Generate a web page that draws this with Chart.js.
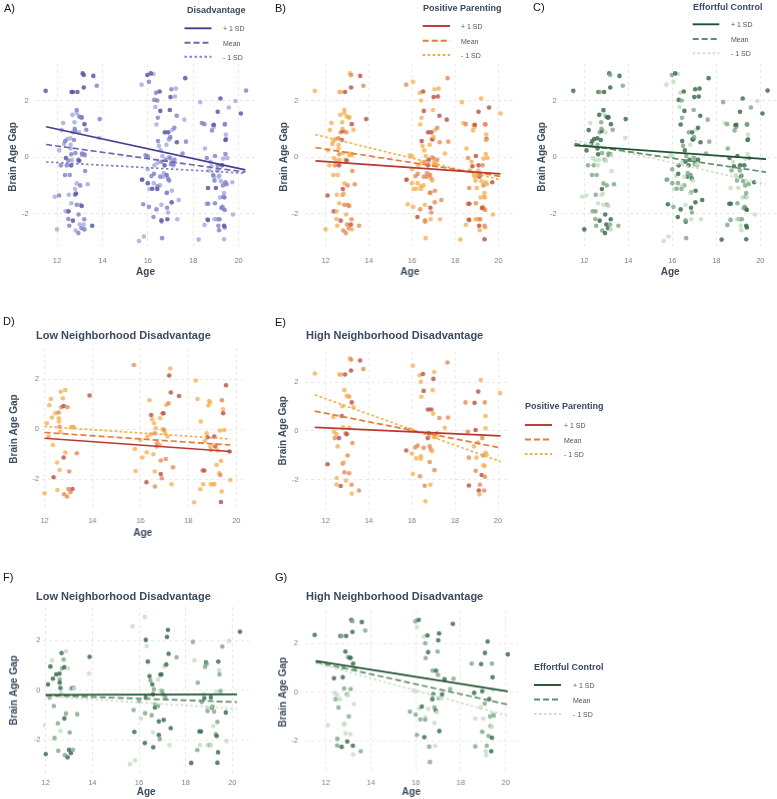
<!DOCTYPE html>
<html><head><meta charset="utf-8">
<script src="https://cdn.jsdelivr.net/npm/chart.js@4"></script>
<style>
html,body{margin:0;padding:0;background:#fff;}
body{width:777px;height:799px;position:relative;overflow:hidden;font-family:"Liberation Sans",Arial,Helvetica,sans-serif;}
.t{position:absolute;white-space:nowrap;line-height:1;transform:translateY(-50%);}
</style></head><body>
<script>
// ---------------- DATA ----------------
const xTicks = [12, 14, 16, 18, 20];
const yTicks = [-2, 0, 2];
const sdLabels = ['+ 1 SD', 'Mean', '- 1 SD'];
const panelTitles = ['Low Neighborhood Disadvantage', 'High Neighborhood Disadvantage'];

// Low neighborhood disadvantage participants (panels D, F; part of A, B, C)
const lowAge = [12.0,12.1,12.17,12.2,12.27,12.31,12.35,12.38,12.45,12.52,12.54,12.59,12.6,12.6,12.63,12.63,12.68,12.7,12.66,12.77,12.8,12.8,12.82,12.87,12.87,12.94,12.96,13.0,13.03,13.08,13.1,13.17,13.19,13.22,13.35,13.88,
15.73,15.77,15.8,16.0,16.08,16.25,16.26,16.29,16.38,16.43,16.45,16.49,16.54,16.57,16.6,16.61,16.6,16.64,16.68,16.7,16.82,16.82,16.85,16.85,16.89,16.92,16.92,16.96,16.99,17.03,17.06,17.08,17.13,17.17,17.2,17.24,17.27,17.3,17.36,17.61,
18.24,18.31,18.38,18.5,18.52,18.59,18.66,18.62,18.69,18.76,18.8,18.83,18.87,18.9,18.91,18.94,18.94,19.04,19.08,19.08,19.12,19.15,19.18,19.22,19.29,19.32,19.33,19.36,19.36,19.39,19.4,19.44,19.45,19.5,19.57,19.75,19.72,
11.9,13.86,15.61,15.83,16.25,16.29,16.33,19.86,20.33];
const lowGap = [-2.56,0.24,-0.29,0.96,1.21,0.47,-0.63,-1.92,0.64,-1.33,-2.43,0.67,0.44,0.31,0.1,-1.63,1.5,0.88,-0.1,1.24,0.93,-1.13,-2.6,1.57,-0.93,-2.69,0.88,-2.39,-1.69,-2.52,0.08,-2.39,0.1,0.08,-0.96,1.35,
2.57,-0.79,-1.67,-0.43,-1.13,-2.12,-0.92,-0.29,1.16,-0.2,0.57,0.4,-1.0,0.24,-1.69,-2.29,-0.16,0.04,-0.69,-0.56,0.44,-0.63,-1.25,-1.79,-1.96,0.63,0.0,0.64,-0.03,-0.16,-1.19,0.97,-0.29,1.04,2.15,2.43,1.47,-2.2,-1.52,1.33,
-2.92,1.95,1.21,-2.4,0.31,-1.65,-1.65,-2.2,-0.47,-0.16,-0.32,0.95,1.13,1.07,-0.69,-0.83,-2.2,-2.2,-2.2,-0.29,-0.69,-0.65,-1.43,-0.85,-1.76,-0.05,-1.83,-2.91,-1.27,-2.49,1.16,0.8,0.64,-0.03,1.76,-2.03,-0.89,
-1.4,0.68,-2.97,-2.81,2.95,2.03,1.78,1.99,2.36];
// moderator levels: 2 = high (+1 SD side), 1 = around mean, 0 = low (-1 SD side); null = not in that model
const lowParenting = [0,0,0,0,0,0,0,2,0,0,0,1,0,0,1,0,0,1,0,0,2,2,1,0,0,1,1,1,1,1,0,2,0,0,1,2,
1,0,0,0,0,2,0,0,0,0,2,0,0,0,0,1,1,0,1,1,0,0,1,2,1,1,0,2,1,0,1,0,0,1,2,0,2,0,1,2,
0,0,0,0,0,1,2,0,0,0,2,0,0,0,0,0,0,0,0,2,2,1,0,0,0,0,1,2,0,0,1,0,2,0,2,0,2,
null,null,null,null,null,null,null,null,null];
const lowEffort = [2,2,1,2,0,2,1,1,2,1,1,2,1,2,2,0,2,1,0,1,2,2,1,0,1,2,0,2,1,2,1,1,2,0,1,2,
0,1,2,1,0,2,1,2,2,0,2,1,1,2,0,2,2,1,2,1,0,1,2,2,1,2,0,2,1,1,2,0,1,2,2,2,2,0,2,1,
2,1,0,1,1,2,2,0,1,0,2,1,2,1,0,1,0,1,0,2,2,1,0,1,1,0,2,2,1,2,2,0,1,1,1,0,2,
0,0,0,0,0,2,0,0,2];
const lowDisadvantage = [0,0,1,0,0,0,1,0,0,0,1,0,0,0,1,0,0,0,0,0,1,0,0,0,0,1,0,0,0,1,0,0,0,1,0,1,
0,0,1,0,0,1,0,0,0,0,1,0,0,0,0,0,1,0,0,0,0,1,0,1,0,0,0,0,1,0,0,0,0,1,0,0,1,0,0,0,
0,0,1,0,0,0,1,0,0,0,0,1,0,0,0,1,0,0,0,1,0,0,0,0,1,0,0,0,0,1,0,0,1,0,0,0,0,
0,0,0,0,0,1,0,0,1];

// High neighborhood disadvantage participants (panels E, G; part of A, B, C)
const highAge = [11.5,12.09,12.36,12.39,12.43,12.5,12.51,12.5,12.56,12.62,12.64,12.7,12.7,12.75,12.78,12.79,12.81,12.84,12.87,12.87,12.9,12.93,12.95,12.98,12.98,13.02,13.06,13.09,13.1,13.1,13.13,13.18,13.18,13.2,13.21,13.21,13.24,13.29,13.55,13.6,13.75,
15.74,15.9,16.0,16.05,16.0,16.05,16.16,16.27,16.2,16.36,16.52,16.42,16.55,16.44,16.42,16.42,16.38,16.55,16.6,16.63,16.74,16.78,16.75,16.9,16.83,16.83,16.86,16.89,16.94,16.97,16.99,17.0,17.04,17.02,17.05,17.12,17.17,17.28,17.53,17.68,17.65,
18.49,18.6,18.65,18.65,18.88,18.91,18.96,18.96,19.0,19.07,19.08,19.11,19.16,19.14,19.2,19.24,19.27,19.31,19.33,19.36,19.39,19.39,19.42,19.42,19.42,19.47,19.38,20.1,
15.98,16.13];
const highGap = [2.35,-1.36,0.57,-0.03,-0.29,-0.12,-1.92,-2.19,-0.63,-0.29,2.31,2.31,-2.25,0.61,1.01,-1.33,0.15,-1.29,1.67,-1.69,2.31,-0.09,-2.03,-0.13,1.44,-1.0,1.41,-1.73,0.13,1.41,2.97,2.91,2.47,-2.2,1.17,-2.56,-0.49,0.97,-2.43,2.88,2.53,
-0.8,0.07,0.03,2.67,-0.92,-1.76,-0.67,-0.59,-1.12,2.28,2.33,2.01,1.64,1.4,-1.03,-1.13,-1.85,-0.69,-2.24,-2.87,-0.29,-0.09,0.88,0.88,-1.27,-0.63,-2.2,-0.76,-0.83,1.67,0.71,2.13,2.41,-0.25,-1.6,-0.25,-0.09,0.53,0.13,0.55,2.8,
1.17,-0.03,-1.09,-2.23,-0.63,1.15,-1.63,0.04,-1.09,-0.47,1.61,-2.43,-2.2,-2.59,2.08,-1.8,-0.29,-1.0,-1.4,-2.43,1.17,-1.87,0.11,0.61,-0.89,-0.96,-1.43,1.55,
2.91,2.97];
const highParenting = [0,2,0,0,1,0,0,0,0,2,0,0,2,2,0,1,0,0,0,1,2,1,0,2,0,1,0,1,0,0,0,1,2,1,2,0,1,0,1,2,1,
2,0,0,0,0,0,1,1,0,0,2,0,2,0,0,0,1,1,1,0,2,2,2,2,1,1,0,1,0,0,0,2,0,0,1,0,1,1,0,1,1,
1,1,1,2,0,2,1,2,0,0,2,2,1,0,0,2,1,1,0,1,1,1,0,0,0,0,0,0,
null,null];
const highEffort = [2,0,2,0,1,0,1,1,1,0,2,1,2,2,1,0,1,0,2,0,2,1,2,0,1,1,2,0,1,2,2,1,2,2,2,0,0,1,1,2,1,
1,0,0,0,1,1,0,2,1,0,2,1,2,1,0,1,2,0,1,1,2,2,1,2,0,1,0,2,0,1,1,2,2,1,2,0,2,2,1,1,2,
1,2,0,1,0,2,1,2,0,1,2,0,1,0,2,1,2,1,1,2,1,2,0,2,0,1,0,2,
1,2];
const highDisadvantage = [2,1,1,2,1,1,2,1,1,2,2,2,2,1,1,1,1,2,1,1,2,1,1,2,1,1,1,2,1,1,2,2,2,1,2,1,1,1,2,2,1,
2,1,1,1,2,1,1,1,2,1,2,1,2,1,1,2,1,1,2,1,2,1,2,2,1,1,2,1,1,2,1,2,1,1,2,1,1,2,1,1,2,
1,1,2,2,1,2,1,1,2,1,2,1,1,1,2,1,2,1,1,2,1,1,1,2,1,1,1,2,
2,2];

// Simple-slope lines [ageStart, gapStart, ageEnd, gapEnd] for +1 SD, Mean, -1 SD
const fitDisadvantage = [[11.52,1.08,20.3,-0.45],[11.52,0.45,20.3,-0.53],[11.52,-0.17,20.3,-0.57]];
const fitParenting    = [[11.53,-0.13,20.1,-0.59],[11.53,0.34,20.1,-0.68],[11.53,0.8,20.1,-0.8]];
const fitEffort       = [[11.55,0.42,20.26,-0.07],[11.55,0.48,20.26,-0.53],[11.55,0.59,20.26,-0.95]];
const fitParentLow    = [[12.0,-0.36,19.75,-0.89],[12.0,-0.13,19.75,-0.63],[12.0,0.11,19.75,-0.39]];
const fitParentHigh   = [[11.5,0.15,20.12,-0.2],[11.5,0.81,20.12,-0.69],[11.5,1.48,20.12,-1.25]];
const fitEffortLow    = [[12.0,-0.18,20.2,-0.16],[12.0,-0.2,20.2,-0.47],[12.0,-0.24,20.2,-0.74]];
const fitEffortHigh   = [[11.55,1.28,20.1,0.03],[11.55,1.24,20.1,-0.51],[11.55,1.19,20.1,-0.97]];

// ---------------- STYLE ----------------
const FONT = '"Liberation Sans", Arial, Helvetica, sans-serif';
Chart.defaults.font.family = FONT;
const TXT = '#3b4a5e', TICK = '#7f7f7f';
const DASH = [[], [6, 3], [2.5, 2.5]];
const PAL = {
  disadv: {pt: ['rgba(160,170,222,0.8)', 'rgba(128,126,198,0.8)', 'rgba(92,80,160,0.82)'], ln: ['#4a3d8f', '#6e68ad', '#7a86c8']},
  parent: {pt: ['rgba(244,178,84,0.8)', 'rgba(227,138,84,0.8)', 'rgba(183,76,66,0.8)'], ln: ['#b9382f', '#e47a3b', '#f1aa3d']},
  effort: {pt: ['rgba(198,224,194,0.85)', 'rgba(128,168,136,0.82)', 'rgba(62,110,80,0.85)'], ln: ['#1f5230', '#5f8e6a', '#c9e2c6']}
};

function collect(groups) {
  const d = [], c = [];
  groups.forEach(([ages, gaps, lv]) => ages.forEach((a, i) => {
    if (lv[i] === null || lv[i] === undefined) return;
    d.push({x: a, y: gaps[i]}); c.push(lv[i]);
  }));
  return {d, c};
}

// layout: pixel positions of ticks 12 / 20 (x) and 2 / -2 (y), axis ranges, y-title left edge
const ROW1 = {H: 32, tp: 6};
const ROW2 = {H: 33, tp: 6};
const ROW3 = {H: 28, tp: 5};
const panels = [
  {grid: [56.7, 238.3, 97.7, 212.7], x: [11.06, 20.74], y: [-3.3, 3.32], row: ROW1, yp: 7, tl: 2.7, pal: PAL.disadv, fit: fitDisadvantage,
   pts: collect([[lowAge, lowGap, lowDisadvantage], [highAge, highGap, highDisadvantage]]), age: true},
  {grid: [325.7, 497.7, 97.7, 212.7], x: [11.06, 20.74], y: [-3.3, 3.32], row: ROW1, yp: 7, tl: 274.3, pal: PAL.parent, fit: fitParenting,
   pts: collect([[lowAge, lowGap, lowParenting], [highAge, highGap, highParenting]]), age: true},
  {grid: [584, 760, 97.7, 212.7], x: [11.06, 20.74], y: [-3.3, 3.32], row: ROW1, yp: 7, tl: 531.7, pal: PAL.effort, fit: fitEffort,
   pts: collect([[lowAge, lowGap, lowEffort], [highAge, highGap, highEffort]]), age: true},
  {grid: [44.3, 235.3, 379.3, 479.3], x: [11.9, 20.3], y: [-3.23, 3.25], row: ROW2, yp: 3, tl: 4, pal: PAL.parent, fit: fitParentLow,
   pts: collect([[lowAge, lowGap, lowParenting]]), age: true},
  {grid: [325.7, 497.3, 379.3, 479.3], x: [11.07, 20.53], y: [-3.23, 3.25], row: ROW2, yp: 7, tl: 273.3, pal: PAL.parent, fit: fitParentHigh,
   pts: collect([[highAge, highGap, highParenting]]), age: false},
  {grid: [45.7, 232.3, 640.3, 739.3], x: [11.9, 20.72], y: [-3.35, 3.35], row: ROW3, yp: 3, tl: 4, pal: PAL.effort, fit: fitEffortLow,
   pts: collect([[lowAge, lowGap, lowEffort]]), age: true},
  {grid: [326, 505, 640.3, 739.3], x: [11.07, 20.53], y: [-3.35, 3.35], row: ROW3, yp: 7, tl: 273.3, pal: PAL.effort, fit: fitEffortHigh,
   pts: collect([[highAge, highGap, highEffort]]), age: true}
];

function makePanel(p) {
  const [x12, x20, y2, ym2] = p.grid;
  const sx = (x20 - x12) / 8, sy = (ym2 - y2) / 4;
  const L = x12 + (p.x[0] - 12) * sx, R = x20 + (p.x[1] - 20) * sx;
  const T = y2 - (p.y[1] - 2) * sy, B = ym2 + (-2 - p.y[0]) * sy;
  const W = L - p.tl, H = p.row.H, PT = 8, PR = 8;
  const div = document.createElement('div');
  Object.assign(div.style, {position: 'absolute', left: (L - W) + 'px', top: (T - PT) + 'px',
    width: (R - L + W + PR) + 'px', height: (B - T + PT + H) + 'px'});
  const cv = document.createElement('canvas');
  div.appendChild(cv); document.body.appendChild(div);
  const lines = p.fit.map((f, k) => ({
    data: [{x: f[0], y: f[1]}, {x: f[2], y: f[3]}], showLine: true, borderColor: p.pal.ln[k],
    borderWidth: 1.7, borderDash: DASH[k], pointRadius: 0, pointHoverRadius: 0, order: 0
  }));
  new Chart(cv, {
    type: 'scatter',
    data: {datasets: [...lines, {
      data: p.pts.d, pointRadius: 2.3, pointHoverRadius: 2.3, pointBorderWidth: 0,
      pointBackgroundColor: p.pts.c.map(l => p.pal.pt[l]), order: 1
    }]},
    options: {
      responsive: true, maintainAspectRatio: false, animation: false, events: [],
      layout: {padding: {top: PT, right: PR, left: 0, bottom: 0}},
      plugins: {legend: {display: false}, tooltip: {enabled: false}},
      scales: {
        x: {type: 'linear', min: p.x[0], max: p.x[1],
          afterBuildTicks: s => { s.ticks = xTicks.map(v => ({value: v})); },
          afterFit: s => { s.height = H; },
          grid: {color: '#e2e2e2', lineWidth: 0.8, drawTicks: false},
          border: {display: false, dash: [3, 3]},
          ticks: {padding: p.row.tp, color: TICK, font: {size: 7.5}},
          title: {display: p.age, text: 'Age', color: TXT, font: {size: 10, weight: 'bold'}, padding: {top: 2, bottom: 4}}},
        y: {type: 'linear', min: p.y[0], max: p.y[1],
          afterBuildTicks: s => { s.ticks = yTicks.map(v => ({value: v})); },
          afterFit: s => { s.width = W; },
          grid: {color: '#e2e2e2', lineWidth: 0.8, drawTicks: false},
          border: {display: false, dash: [3, 3]},
          ticks: {padding: p.yp, color: TICK, font: {size: 7.5}},
          title: {display: true, text: 'Brain Age Gap', color: TXT, font: {size: 10, weight: 'bold'}, padding: {top: 4, bottom: 2}}}
      }
    }
  });
}
panels.forEach(makePanel);

// ---------------- TEXT & LEGENDS ----------------
function text(str, x, y, css) {
  const el = document.createElement('div');
  el.className = 't'; el.textContent = str;
  Object.assign(el.style, {left: x + 'px', top: y + 'px'}, css);
  document.body.appendChild(el);
}
const NS = 'http://www.w3.org/2000/svg';
const svg = document.createElementNS(NS, 'svg');
svg.setAttribute('width', 777); svg.setAttribute('height', 799);
Object.assign(svg.style, {position: 'absolute', left: 0, top: 0});
document.body.appendChild(svg);

function legend(title, pal, x, ty, ys, x0, x1, lx) {
  text(title, x, ty, {fontSize: '9px', fontWeight: 'bold', color: TXT});
  ys.forEach((y, k) => {
    const ln = document.createElementNS(NS, 'line');
    ln.setAttribute('x1', x0); ln.setAttribute('x2', x1); ln.setAttribute('y1', y); ln.setAttribute('y2', y);
    ln.setAttribute('stroke', pal.ln[k]); ln.setAttribute('stroke-width', 1.9);
    if (DASH[k].length) ln.setAttribute('stroke-dasharray', DASH[k].join(' '));
    svg.appendChild(ln);
    text(sdLabels[k], lx, y, {fontSize: '7px', color: '#555'});
  });
}
legend('Disadvantage', PAL.disadv, 187, 9.5, [28.3, 42.7, 56.7], 184.5, 211.5, 223);
legend('Positive Parenting', PAL.parent, 423, 7.5, [26, 40.7, 55], 422.7, 450, 461);
legend('Effortful Control', PAL.effort, 693, 6.5, [24.3, 39, 53.3], 692.7, 719.3, 731);
legend('Positive Parenting', PAL.parent, 525, 406, [425, 439.5, 454], 525, 552, 564);
legend('Effortful Control', PAL.effort, 534, 667, [685, 699.5, 714], 534, 561, 573);

const lab = {fontSize: '11px', color: '#111'};
text('A)', 4, 8, lab); text('B)', 275, 7.5, lab); text('C)', 533, 7, lab);
text('D)', 3, 321, lab); text('E)', 275, 322, lab);
text('F)', 3, 577, lab); text('G)', 275, 577, lab);
const tt = {fontSize: '11px', fontWeight: 'bold', color: TXT};
text(panelTitles[0], 36, 334.5, tt); text(panelTitles[1], 306, 334.5, tt);
text(panelTitles[0], 36, 596, tt); text(panelTitles[1], 306, 596, tt);
</script>
</body></html>
